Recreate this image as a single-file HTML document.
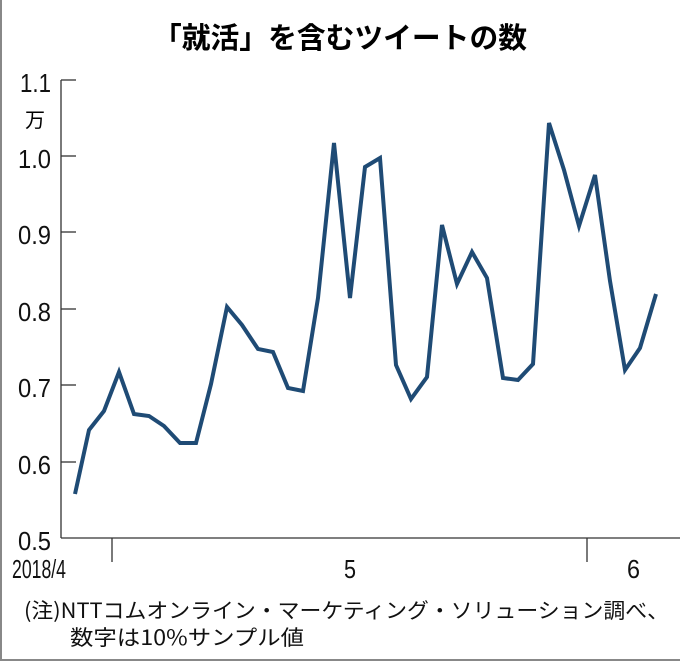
<!DOCTYPE html>
<html><head><meta charset="utf-8"><style>
body{margin:0;background:#fff}
#c{position:relative;width:680px;height:661px;overflow:hidden;box-sizing:border-box;border-left:2px solid #888;border-bottom:2px solid #888;font-family:"Liberation Sans","Noto Sans CJK JP",sans-serif;color:#111}
</style></head><body><div id="c">
<svg width="680" height="661" style="position:absolute;left:-2px;top:0" font-family="Liberation Sans, Noto Sans CJK JP, sans-serif">
<text x="340" y="48" text-anchor="middle" font-size="29" font-weight="bold" font-family="Noto Sans CJK JP, sans-serif" textLength="374" lengthAdjust="spacingAndGlyphs">「就活」を含むツイートの数</text>
<g stroke="#333" stroke-width="1.3" fill="none">
<line x1="61" y1="80" x2="61" y2="538"/>
<line x1="61" y1="538" x2="682" y2="538"/>
<line x1="61" y1="80" x2="76" y2="80"/>
<line x1="61" y1="156" x2="76" y2="156"/>
<line x1="61" y1="232" x2="76" y2="232"/>
<line x1="61" y1="309" x2="76" y2="309"/>
<line x1="61" y1="385" x2="76" y2="385"/>
<line x1="61" y1="462" x2="76" y2="462"/>
<line x1="112" y1="538" x2="112" y2="562"/>
<line x1="587" y1="538" x2="587" y2="562"/>
</g>
<g font-size="26" text-anchor="end" fill="#111">
<text x="51" y="92" textLength="31" lengthAdjust="spacingAndGlyphs">1.1</text>
<text x="51" y="168" textLength="33" lengthAdjust="spacingAndGlyphs">1.0</text>
<text x="51" y="244" textLength="33" lengthAdjust="spacingAndGlyphs">0.9</text>
<text x="51" y="321" textLength="33" lengthAdjust="spacingAndGlyphs">0.8</text>
<text x="51" y="397" textLength="33" lengthAdjust="spacingAndGlyphs">0.7</text>
<text x="51" y="474" textLength="33" lengthAdjust="spacingAndGlyphs">0.6</text>
<text x="51" y="550" textLength="33" lengthAdjust="spacingAndGlyphs">0.5</text>
</g>
<text x="25" y="127" font-size="20" font-family="Noto Sans CJK JP, sans-serif">万</text>
<g font-size="26" fill="#111">
<text x="12" y="578" textLength="54" lengthAdjust="spacingAndGlyphs">2018/4</text>
<text x="344" y="578" textLength="12" lengthAdjust="spacingAndGlyphs">5</text>
<text x="627" y="578" textLength="13" lengthAdjust="spacingAndGlyphs">6</text>
</g>
<polyline fill="none" stroke="#1f4b75" stroke-width="4" stroke-linejoin="miter" points="75,494 89,430 104,411 119,372 134,414 149,416 164,426 180,443 196,443 211,384 227,307 242,325 258,349 273,352 288,388 303,391 318,298 334,143 350,298 365,167 380,158 396,365 411,399 427,377 442,225 457,284 472,252 487,278 503,378 518,380 533,364 549,123 564,170 579,226 595,175 610,281 625,370 640,348 656,294"/>
<g font-size="21" fill="#111" font-family="Noto Sans CJK JP, sans-serif">
<text x="24" y="618" textLength="645" lengthAdjust="spacingAndGlyphs">(注)NTTコムオンライン・マーケティング・ソリューション調べ、</text>
<text x="70" y="645" textLength="234" lengthAdjust="spacingAndGlyphs">数字は10%サンプル値</text>
</g>
</svg>
</div></body></html>
